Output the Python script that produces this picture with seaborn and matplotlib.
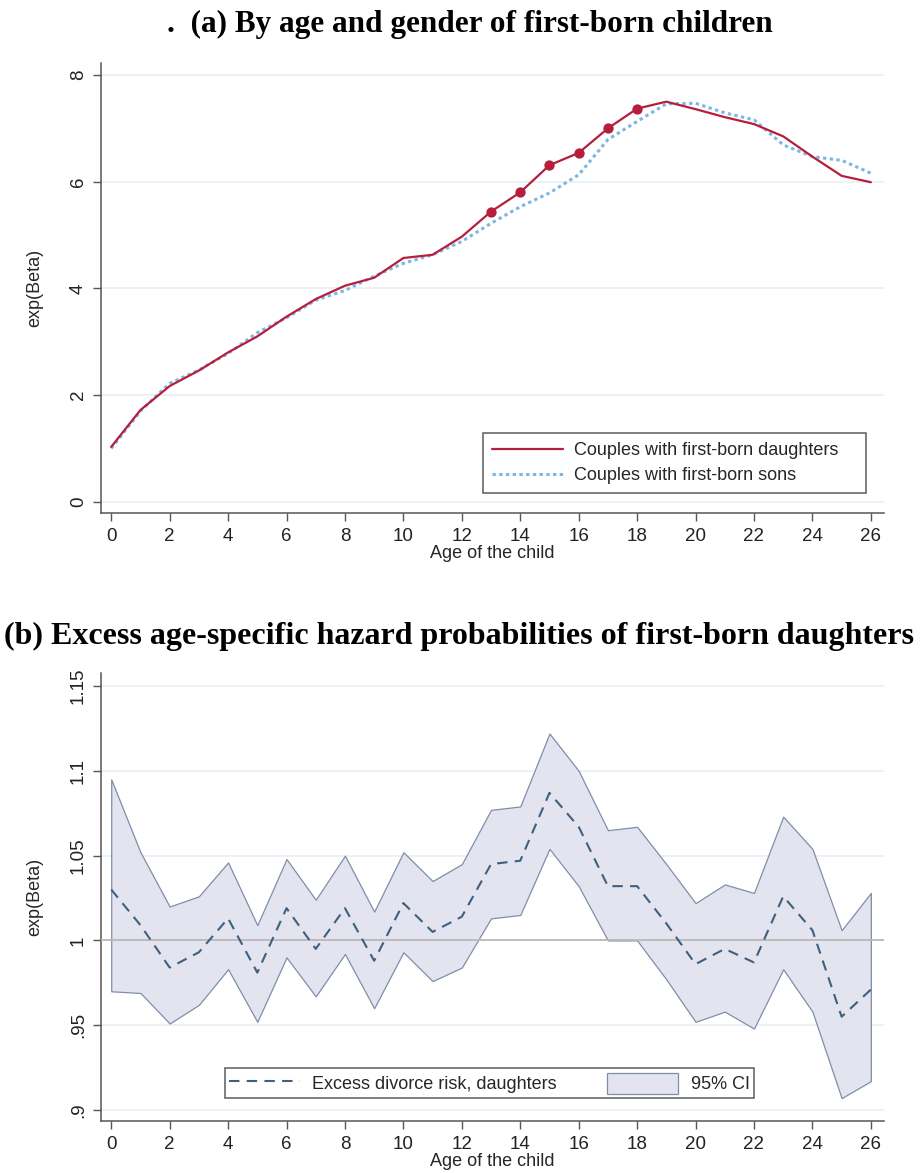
import matplotlib
matplotlib.use("Agg")
import matplotlib.pyplot as plt
import seaborn as sns
import pandas as pd
from matplotlib.patches import Patch
from matplotlib.lines import Line2D

# ------------------------------
# Data
# ------------------------------
ages = list(range(27))

# panel (a): exp(Beta) by age of first-born child
daughters = [1.03, 1.72, 2.17, 2.46, 2.80, 3.10, 3.47, 3.80, 4.05, 4.20,
             4.57, 4.63, 4.97, 5.44, 5.80, 6.31, 6.54, 7.00, 7.37, 7.50,
             7.36, 7.21, 7.08, 6.85, 6.47, 6.11, 5.99]
sons = [1.00, 1.70, 2.22, 2.47, 2.78, 3.17, 3.45, 3.78, 3.96, 4.23,
        4.47, 4.63, 4.88, 5.22, 5.53, 5.79, 6.13, 6.79, 7.13, 7.46,
        7.47, 7.29, 7.16, 6.69, 6.47, 6.40, 6.16]
signif_ages = [13, 14, 15, 16, 17, 18]

# panel (b): excess hazard of daughters with 95% CI
excess = [1.030, 1.009, 0.984, 0.993, 1.013, 0.981, 1.019, 0.995, 1.019, 0.988,
          1.022, 1.005, 1.014, 1.045, 1.047, 1.087, 1.067, 1.032, 1.032, 1.010,
          0.986, 0.995, 0.987, 1.026, 1.006, 0.955, 0.971]
ci_low = [0.970, 0.969, 0.951, 0.962, 0.983, 0.952, 0.990, 0.967, 0.992, 0.960,
          0.993, 0.976, 0.984, 1.013, 1.015, 1.054, 1.032, 1.000, 1.000, 0.977,
          0.952, 0.958, 0.948, 0.983, 0.958, 0.907, 0.917]
ci_high = [1.095, 1.052, 1.020, 1.026, 1.046, 1.009, 1.048, 1.024, 1.050, 1.017,
           1.052, 1.035, 1.045, 1.077, 1.079, 1.122, 1.100, 1.065, 1.067, 1.045,
           1.022, 1.033, 1.028, 1.073, 1.054, 1.006, 1.028]

df_a = pd.DataFrame({"age": ages, "daughters": daughters, "sons": sons})
df_b = pd.DataFrame({"age": ages, "excess": excess, "low": ci_low, "high": ci_high})

# ------------------------------
# Style
# ------------------------------
sns.set_style("white")
plt.rcParams["font.family"] = ["Liberation Sans", "DejaVu Sans"]

RED = "#B51F3C"
LIGHTBLUE = "#7DB7E2"
SLATE = "#3E5F7E"
FILL = "#E4E4F0"
FILL_EDGE = "#7D8FA8"
GRID = "#EAF0F4"
AXIS = "#555555"

fig = plt.figure(figsize=(9.24, 11.73), dpi=100)
W, H = 924, 1173


def add_ax(left, top, right, bottom):
    return fig.add_axes([left / W, 1 - bottom / H, (right - left) / W, (bottom - top) / H])


def style_axis(ax):
    for s in ["top", "right"]:
        ax.spines[s].set_visible(False)
    for s in ["left", "bottom"]:
        ax.spines[s].set_color(AXIS)
        ax.spines[s].set_linewidth(1.1)
    ax.tick_params(axis="both", direction="out", length=6, width=1, color=AXIS,
                   labelsize=13.5, labelcolor="#222222", left=True, bottom=True)
    ax.tick_params(axis="y", pad=4)
    ax.tick_params(axis="x", pad=5)
    ax.set_xticks(range(0, 27, 2))
    ax.set_xlim(-0.35, 26.45)
    ax.grid(axis="y", color=GRID, linewidth=1.3)
    ax.grid(axis="x", visible=False)
    ax.set_axisbelow(True)
    for lab in ax.get_yticklabels():
        lab.set_rotation(90)
        lab.set_va("center")
    ax.set_xlabel("Age of the child", fontsize=13, labelpad=0)
    ax.set_ylabel("exp(Beta)", fontsize=13, labelpad=19)


# ------------------------------
# Panel (a)
# ------------------------------
fig.text(0.508, 0.979, ".  (a) By age and gender of first-born children",
         ha="center", va="center", fontsize=22.5, fontweight="bold",
         family="Liberation Serif", color="black")

ax1 = add_ax(101, 63, 884, 513)
sns.lineplot(data=df_a, x="age", y="sons", ax=ax1, color=LIGHTBLUE,
             linewidth=2.2, linestyle=(0, (1.1, 1.1)))
sns.lineplot(data=df_a, x="age", y="daughters", ax=ax1, color=RED, linewidth=1.6)
sig = df_a[df_a["age"].isin(signif_ages)]
sns.scatterplot(data=sig, x="age", y="daughters", ax=ax1, color=RED, s=55,
                edgecolor=RED, linewidth=0, zorder=5)
ax1.set_ylim(-0.21, 8.225)
ax1.set_yticks([0, 2, 4, 6, 8])
style_axis(ax1)

handles = [Line2D([], [], color=RED, linewidth=1.6),
           Line2D([], [], color=LIGHTBLUE, linewidth=2.2, linestyle=(0, (1.1, 1.1)))]
leg = ax1.legend(handles, ["Couples with first-born daughters", "Couples with first-born sons"],
                 loc="upper left", bbox_to_anchor=(0.488, 0.178, 0.489, 0.0), mode="expand",
                 fontsize=13, frameon=True, fancybox=False, edgecolor="#333333",
                 handlelength=3.9, borderpad=0.5, labelspacing=0.45, handletextpad=0.65,
                 borderaxespad=0)
leg.get_frame().set_linewidth(1.1)

# ------------------------------
# Panel (b)
# ------------------------------
fig.text(0.497, 0.457, "(b) Excess age-specific hazard probabilities of first-born daughters",
         ha="center", va="center", fontsize=23, fontweight="bold",
         family="Liberation Serif", color="black")

ax2 = add_ax(101, 673, 884, 1121)
ax2.fill_between(df_b["age"], df_b["low"], df_b["high"], facecolor=FILL,
                 edgecolor=FILL_EDGE, linewidth=0.9, zorder=2)
ax2.axhline(1.0, color="#B8B8B8", linewidth=1.3, zorder=3)
sns.lineplot(data=df_b, x="age", y="excess", ax=ax2, color=SLATE,
             linewidth=1.5, linestyle=(0, (5, 3.5)), zorder=4)
ax2.set_ylim(0.8935, 1.1577)
yt = [0.9, 0.95, 1.0, 1.05, 1.1, 1.15]
ax2.set_yticks(yt)
ax2.set_yticklabels([".9", ".95", "1", "1.05", "1.1", "1.15"])
style_axis(ax2)
ax2.get_ygridlines()[2].set_visible(False)

handles2 = [Line2D([], [], color=SLATE, linewidth=1.5, linestyle=(0, (5, 3.5))),
            Patch(facecolor=FILL, edgecolor=FILL_EDGE, linewidth=0.9)]
leg2 = ax2.legend(handles2, ["Excess divorce risk, daughters", "95% CI"],
                  loc="upper left", bbox_to_anchor=(0.158, 0.118), ncol=2,
                  fontsize=13, frameon=True, fancybox=False, edgecolor="#333333",
                  handlelength=3.9, handleheight=1.4, borderpad=0.25,
                  handletextpad=0.7, columnspacing=2.8, borderaxespad=0)
leg2.get_frame().set_linewidth(1.1)

fig.savefig("out.png", dpi=100)
